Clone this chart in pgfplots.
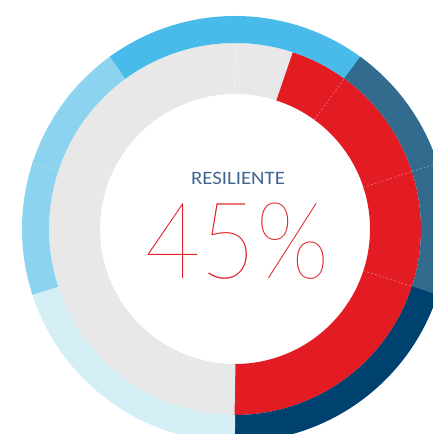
\documentclass[border=0pt]{standalone}
\usepackage{pgfplots}
\pgfplotsset{compat=1.18}
\usepackage{fontspec}
\setmainfont{Carlito}
\newfontfamily\hair{Lato Hairline}
\definecolor{cmed}{HTML}{48BBEA}
\definecolor{clight}{HTML}{8BD3EF}
\definecolor{cpale}{HTML}{D3EEF5}
\definecolor{cslate}{HTML}{336B8F}
\definecolor{cnavy}{HTML}{00426F}
\definecolor{cred}{HTML}{E31B23}
\definecolor{cgray}{HTML}{E8E8E8}
\definecolor{ctext}{HTML}{3E6690}
% segment: colour, mid radius, ring width, start %, end % (clockwise from top)
% (each segment runs a hair past its end so that the next one covers the seam)
\newcommand{\seg}[5]{%
  \addplot[draw=#1, line width=#3bp, line cap=butt, domain=#4:#5+0.25, samples=90]
    ({#2*cos(90-3.6*x)},{#2*sin(90-3.6*x)});}
% faint divider: inner radius, outer radius, position %
\newcommand{\divider}[3]{%
  \addplot[draw=white, opacity=0.4, line width=0.6bp, dash pattern=on 2bp off 2bp, domain=#1:#2, samples=2]
    ({x*cos(90-3.6*#3)},{x*sin(90-3.6*#3)});}
\begin{document}
\begin{tikzpicture}
\begin{axis}[
  scale only axis, width=433bp, height=434bp,
  xmin=-235, xmax=198, ymin=-205, ymax=229,
  hide axis, clip=true]
% inner ring (resiliente 45%)
\seg{cgray}{160.5}{51}{0}{5}
\seg{cred}{160.5}{51}{5}{10}
\seg{cred}{160.5}{51}{10}{20}
\seg{cred}{160.5}{51}{20}{30}
\seg{cred}{160.5}{51}{30}{50}
\seg{cgray}{160.5}{51}{50}{100}
% outer ring
\seg{cmed}{199.5}{27}{0}{10}
\seg{cslate}{199.5}{27}{10}{20}
\seg{cslate}{199.5}{27}{20}{30}
\seg{cnavy}{199.5}{27}{30}{50}
\seg{cpale}{199.5}{27}{50}{70}
\seg{clight}{199.5}{27}{70}{80}
\seg{clight}{199.5}{27}{80}{90}
\seg{cmed}{199.5}{27}{90}{100}
\divider{135}{186}{10}
\divider{135}{186}{20}
\divider{135}{186}{30}
\divider{186}{213}{20}
\divider{186}{213}{80}
\addplot[draw=white, opacity=0.5, line width=0.5bp, domain=-0.5:0.5, samples=2] ({x},{135+51*(x+0.5)});
\node[anchor=base, text=ctext, font=\fontsize{19}{19}\selectfont, xscale=1.1] at (axis cs:3,44) {RESILIENTE};
\node[anchor=base, text=cred, font=\hair\fontsize{107}{107}\selectfont, xscale=0.9] at (axis cs:2.5,-50) {45\%};
\end{axis}
\path (current axis.south west) rectangle (current axis.north east);
\end{tikzpicture}
\end{document}
